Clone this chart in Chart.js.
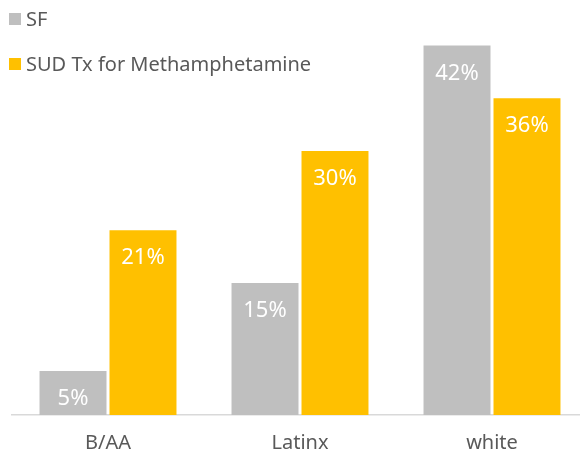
<!DOCTYPE html>
<html>
<head>
  <meta charset="utf-8" />
  <title>SF vs SUD Tx for Methamphetamine</title>
  <script src="https://cdn.jsdelivr.net/npm/chart.js"></script>
  <style>
    html, body { margin: 0; padding: 0; overflow: hidden; background: #ffffff; }
    #wrap { position: relative; width: 588px; height: 473px; }
    #legend {
      position: absolute; left: 9px; top: 6px; z-index: 2;
      font-family: "Noto Sans", sans-serif; font-size: 20px; color: #595959;
    }
    #legend div { height: 45px; line-height: 26px; display: flex; align-items: flex-start; }
    #legend span.box { display: inline-block; width: 12px; height: 12px; margin: 7px 5px 0 0; }
  </style>
</head>
<body>
  <div id="wrap">
    <div id="legend"></div>
    <canvas id="chart" width="588" height="473"></canvas>
  </div>
  <script>
    const categories = ['B/AA', 'Latinx', 'white'];
    const seriesNames = ['SF', 'SUD Tx for Methamphetamine'];
    const sfValues = [5, 15, 42];
    const sudValues = [21, 30, 36];
    const seriesColors = ['#BFBFBF', '#FFC000'];

    // legend drawn as html, overlaid top-left
    const legend = document.getElementById('legend');
    seriesNames.forEach((name, i) => {
      const row = document.createElement('div');
      const box = document.createElement('span');
      box.className = 'box';
      box.style.background = seriesColors[i];
      row.appendChild(box);
      row.appendChild(document.createTextNode(name));
      legend.appendChild(row);
    });

    // value labels inside the bars
    const barLabels = {
      id: 'barLabels',
      afterDatasetsDraw(chart) {
        const ctx = chart.ctx;
        ctx.save();
        ctx.fillStyle = '#ffffff';
        ctx.font = '22px "Noto Sans", sans-serif';
        ctx.textAlign = 'center';
        ctx.textBaseline = 'middle';
        chart.data.datasets.forEach((ds, di) => {
          chart.getDatasetMeta(di).data.forEach((bar, i) => {
            ctx.fillText(ds.data[i] + '%', bar.x, bar.y + 28);
          });
        });
        ctx.restore();
      }
    };

    new Chart(document.getElementById('chart'), {
      type: 'bar',
      data: {
        labels: categories,
        datasets: [
          { label: seriesNames[0], data: sfValues, backgroundColor: seriesColors[0] },
          { label: seriesNames[1], data: sudValues, backgroundColor: seriesColors[1] }
        ]
      },
      options: {
        responsive: false,
        animation: false,
        categoryPercentage: 0.729,
        barPercentage: 0.957,
        layout: { padding: { top: 19, left: 12, right: 0, bottom: 2 } },
        plugins: { legend: { display: false }, tooltip: { enabled: false } },
        scales: {
          x: {
            grid: { display: false, drawTicks: false },
            border: { color: '#D9D9D9', width: 1.5 },
            ticks: { color: '#595959', font: { family: '"Noto Sans", sans-serif', size: 20 }, padding: 16 }
          },
          y: { display: false, min: 0, max: 45 }
        }
      },
      plugins: [barLabels]
    });
  </script>
</body>
</html>
